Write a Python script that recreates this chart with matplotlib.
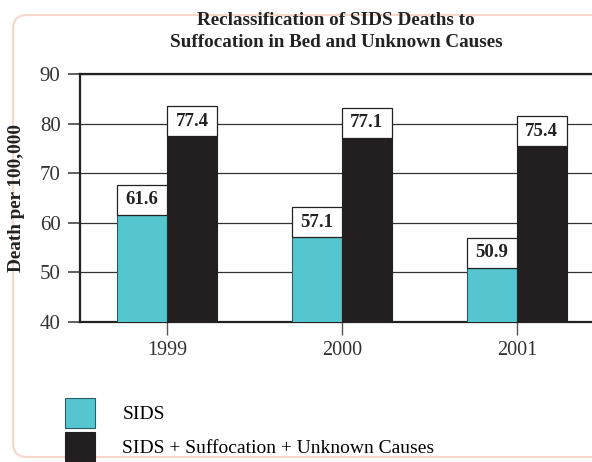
import numpy as np
import matplotlib.pyplot as plt
from matplotlib.patches import Rectangle, FancyBboxPatch
from matplotlib.transforms import IdentityTransform

plt.rcParams['font.family'] = ['Liberation Serif', 'DejaVu Serif']

# data
years = ['1999', '2000', '2001']
sids = [61.6, 57.1, 50.9]
sids_all = [77.4, 77.1, 75.4]
series_names = ['SIDS', 'SIDS + Suffocation + Unknown Causes']

cyan = '#55c6d0'
black = '#231f20'

fig = plt.figure(figsize=(5.92, 4.62), dpi=100)

# rounded card behind everything
card = FancyBboxPatch((13, 5), 620, 442, boxstyle='round,pad=0,rounding_size=14',
                      transform=IdentityTransform(), facecolor='white',
                      edgecolor='#f6d8c8', linewidth=1.5, zorder=0)
fig.add_artist(card)

ax = fig.add_axes([80/592, 1-322/462, 1-80/592, (322-74)/462])
ax.set_facecolor('none')

x = np.arange(len(years))
w = 0.286
b1 = ax.bar(x - w/2, sids, w, color=cyan, edgecolor='#2a5c63', linewidth=0.8, zorder=3)
b2 = ax.bar(x + w/2, sids_all, w, color=black, edgecolor=black, linewidth=0.8, zorder=3)

# value boxes sitting on top of the bars
box_h = 6.1
for xs, vals in [(x - w/2, sids), (x + w/2, sids_all)]:
    for xi, v in zip(xs, vals):
        ax.add_patch(Rectangle((xi - w/2, v), w, box_h, facecolor='white',
                               edgecolor='#222222', linewidth=0.9, zorder=4))
        ax.text(xi, v + box_h/2, f'{v:.1f}', ha='center', va='center',
                fontsize=13.5, fontweight='bold', color='#222222', zorder=5)

ax.set_ylim(40, 90)
ax.set_xlim(-0.497, 2.43)
ax.set_yticks(range(40, 91, 10))
ax.set_xticks(x)
ax.set_xticklabels(years)
ax.grid(axis='y', color='#333333', linewidth=0.9, zorder=1)
ax.set_axisbelow(True)

for s in ['left', 'bottom', 'top']:
    ax.spines[s].set_linewidth(1.6)
    ax.spines[s].set_color('#222222')
ax.spines['right'].set_visible(False)
ax.tick_params(axis='y', length=9, width=1.2, labelsize=15, colors='#444444', pad=5)
ax.tick_params(axis='x', length=9, width=1, labelsize=14.5, colors='#555555', pad=5)
for lbl in ax.get_xticklabels() + ax.get_yticklabels():
    lbl.set_color('#333333')

ax.set_ylabel('Death per 100,000', fontsize=13.8, fontweight='bold', color='#222222')
ax.yaxis.set_label_coords(-0.107, 0.5)

fig.text(336/592, 1-31.5/462, 'Reclassification of SIDS Deaths to\nSuffocation in Bed and Unknown Causes',
         ha='center', va='center', fontsize=13.8, fontweight='bold', color='#222222',
         linespacing=1.32)

fig.legend([b1, b2], series_names, loc='upper left', bbox_to_anchor=(65/592, 1-398/462),
           frameon=False, fontsize=14, handlelength=1.55, handleheight=2.0,
           labelspacing=0.2, handletextpad=1.4, borderaxespad=0, borderpad=0)

fig.savefig('out.png', dpi=100)
